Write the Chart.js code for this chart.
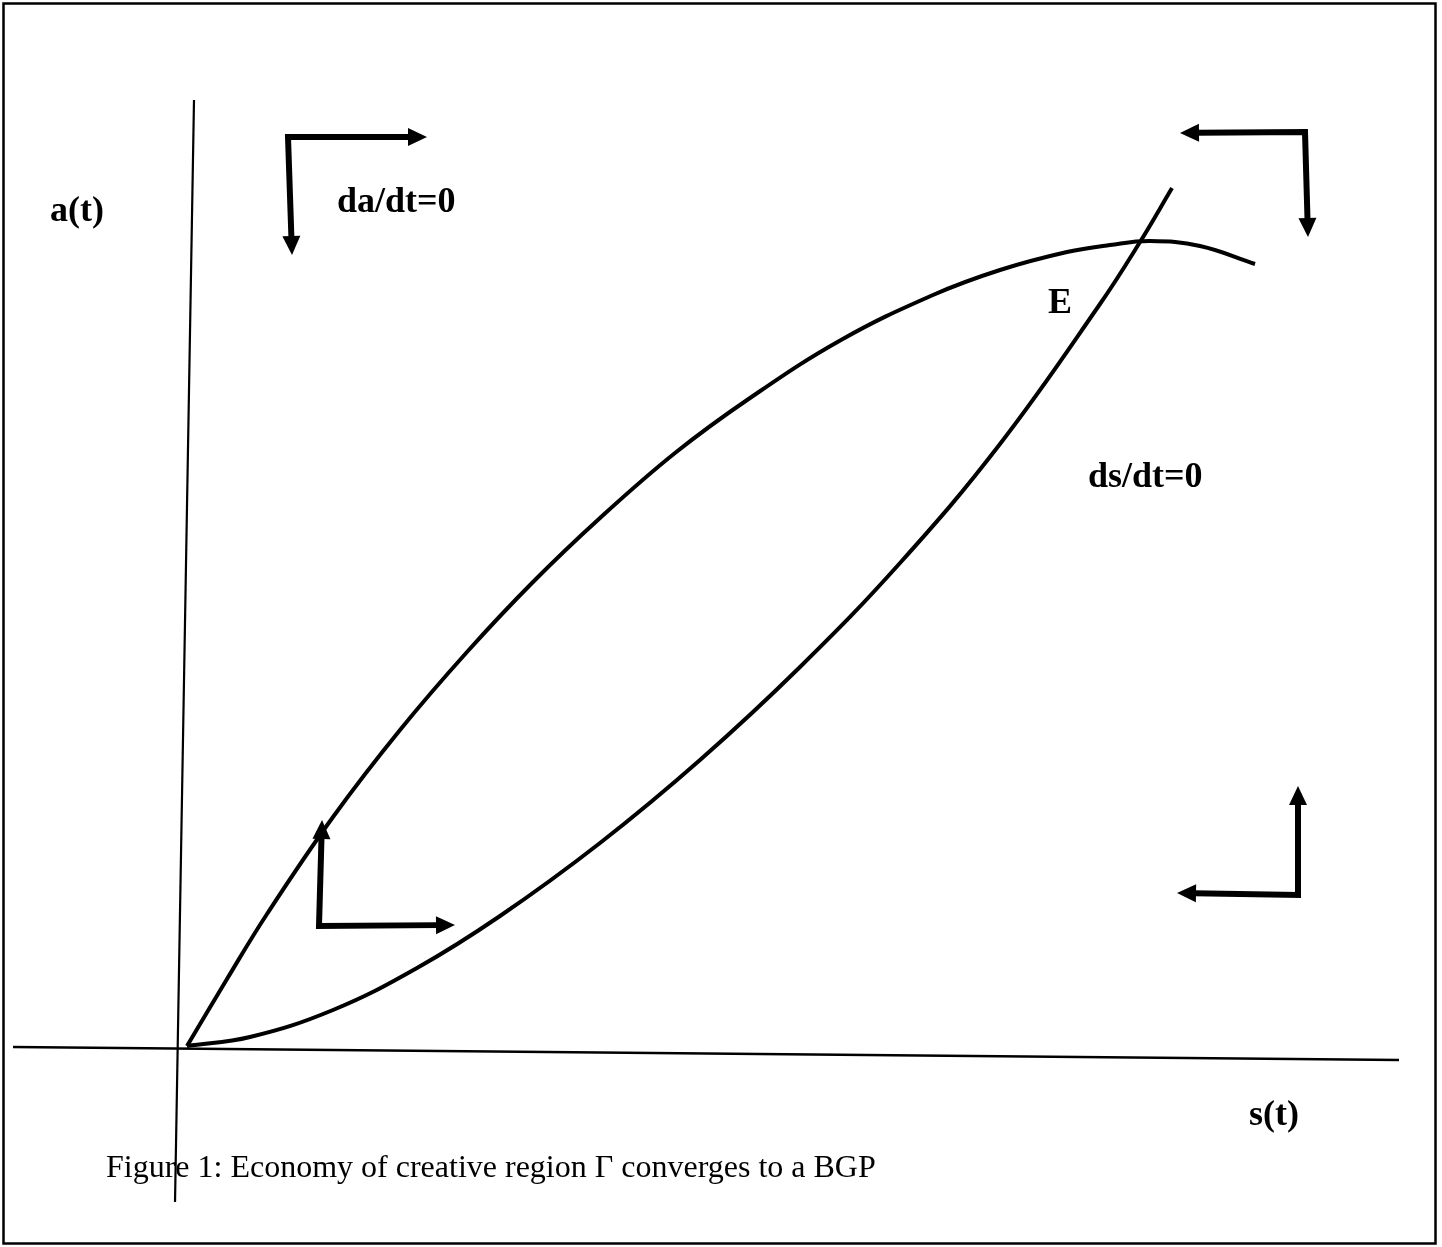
<!DOCTYPE html>
<html>
<head>
<meta charset="utf-8">
<script src="https://cdn.jsdelivr.net/npm/chart.js@4.4.1/dist/chart.umd.min.js"></script>
<style>
  html, body { margin: 0; padding: 0; background: #ffffff; }
  #wrap { width: 1442px; height: 1247px; }
  canvas { display: block; }
</style>
</head>
<body>
<div id="wrap"><canvas id="c" width="1442" height="1247"></canvas></div>
<script>
// ---- data (x = s(t) units, y = a(t) units, y grows downward) ----
const sAxis = [[13, 1047], [1399, 1060]];
const aAxis = [[194, 100], [175, 1202]];

// da/dt = 0 locus (concave, peaks near E)
const daCurve = [
  [187, 1046], [227, 979], [267, 914], [333, 817], [400, 730], [467, 652],
  [533, 582], [600, 518], [675, 453], [750, 398], [841, 340], [933, 295],
  [1000, 270], [1067, 252], [1110, 245], [1150, 241], [1200, 246], [1255, 264]
];

// ds/dt = 0 locus (convex, passes through E)
const dsCurve = [
  [187, 1046], [250, 1037], [333, 1010], [417, 968], [500, 916], [600, 843],
  [700, 760], [800, 667], [900, 563], [1000, 444], [1100, 304], [1140, 242],
  [1172, 188]
];

// phase arrows: first tip, corner, second tip
const arrowTipsA = [[292, 255], [1308, 237], [322, 820], [1298, 786]];
const arrowCorners = [[288, 137], [1305, 132], [319, 926], [1298, 895]];
const arrowTipsB = [[427, 137], [1180, 133], [455, 925], [1177, 893]];

// text labels
const labelTexts = ['a(t)', 'da/dt=0', 'E', 'ds/dt=0', 's(t)'];
const labelAnchors = [[50, 221], [337, 212], [1048, 313], [1088, 487], [1249, 1125]];
const captionText = 'Figure 1: Economy of creative region \u0393 converges to a BGP';
const captionAnchor = [106, 1177];

// ---- building the chart ----
const HEAD_LEN = 19, HEAD_HALF = 9;
const toPts = arr => arr.map(p => ({ x: p[0], y: p[1] }));

function shaftEnd(tip, corner) {
  const dx = tip[0] - corner[0], dy = tip[1] - corner[1];
  const len = Math.hypot(dx, dy);
  const back = HEAD_LEN - 2;
  return [tip[0] - dx / len * back, tip[1] - dy / len * back];
}

const datasets = [
  { data: toPts(sAxis), borderWidth: 2.5, tension: 0 },
  { data: toPts(aAxis), borderWidth: 2.2, tension: 0 },
  { data: toPts(daCurve), borderWidth: 4, tension: 0.4 },
  { data: toPts(dsCurve), borderWidth: 4, tension: 0.4 }
];
arrowCorners.forEach((c, i) => {
  const a = shaftEnd(arrowTipsA[i], c), b = shaftEnd(arrowTipsB[i], c);
  datasets.push({ data: toPts([a, c, b]), borderWidth: 6, tension: 0, borderJoinStyle: 'miter', borderCapStyle: 'butt' });
});
datasets.forEach(d => {
  d.showLine = true; d.borderColor = '#000000'; d.backgroundColor = '#000000';
  d.pointRadius = 0; d.pointHoverRadius = 0; d.fill = false;
});

const overlay = {
  id: 'overlay',
  afterDatasetsDraw(chart) {
    const { ctx, scales: { x, y } } = chart;
    const px = p => [x.getPixelForValue(p[0]), y.getPixelForValue(p[1])];
    ctx.save();
    // arrowheads
    ctx.fillStyle = '#000';
    const head = (tip, corner) => {
      const t = px(tip), c = px(corner);
      let dx = t[0] - c[0], dy = t[1] - c[1];
      const l = Math.hypot(dx, dy); dx /= l; dy /= l;
      const bx = t[0] - dx * HEAD_LEN, by = t[1] - dy * HEAD_LEN;
      ctx.beginPath();
      ctx.moveTo(t[0], t[1]);
      ctx.lineTo(bx - dy * HEAD_HALF, by + dx * HEAD_HALF);
      ctx.lineTo(bx + dy * HEAD_HALF, by - dx * HEAD_HALF);
      ctx.closePath();
      ctx.fill();
    };
    arrowCorners.forEach((c, i) => { head(arrowTipsA[i], c); head(arrowTipsB[i], c); });
    // labels
    ctx.fillStyle = '#000';
    ctx.textBaseline = 'alphabetic';
    ctx.textAlign = 'left';
    ctx.font = 'bold 36px "Liberation Serif", "Times New Roman", serif';
    labelTexts.forEach((t, i) => { const p = px(labelAnchors[i]); ctx.fillText(t, p[0], p[1]); });
    ctx.font = '32px "Liberation Serif", "Times New Roman", serif';
    const cp = px(captionAnchor);
    ctx.fillText(captionText, cp[0], cp[1]);
    // frame
    ctx.strokeStyle = '#000';
    ctx.lineWidth = 2.5;
    ctx.strokeRect(3.5, 3.5, 1432, 1240);
    ctx.restore();
  }
};

new Chart(document.getElementById('c'), {
  type: 'scatter',
  data: { datasets },
  options: {
    responsive: false,
    animation: false,
    events: [],
    layout: { padding: 0 },
    plugins: { legend: { display: false }, tooltip: { enabled: false }, title: { display: false } },
    scales: {
      x: { type: 'linear', min: 0, max: 1442, display: false },
      y: { type: 'linear', min: 0, max: 1247, reverse: true, display: false }
    }
  },
  plugins: [overlay]
});
</script>
</body>
</html>
